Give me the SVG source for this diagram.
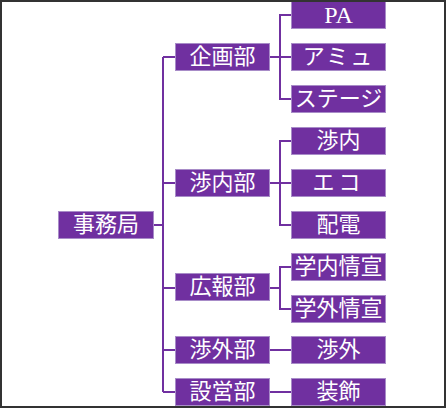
<svg xmlns="http://www.w3.org/2000/svg" width="446" height="408" viewBox="0 0 446 408">
<style>
.box{fill:#7030A0;stroke:#A88CC8;stroke-width:1}
.t{fill:#FFFFFF;font-family:"Noto Sans CJK JP","Noto Sans CJK SC",sans-serif;font-size:22px;text-anchor:middle}
.lat{font-family:"Liberation Serif","Noto Sans CJK JP",serif;font-size:24px}
.c{fill:none;stroke:#7030A0;stroke-width:2}
</style>
<rect x="0" y="0" width="446" height="408" fill="#FFFFFF"/>
<g id="connectors">
<path class="c" d="M153,225 H163 M163,57 V392 M163,57 H175 M163,183 H175 M163,288 H175 M163,350 H175 M163,392 H175"/>
<path class="c" d="M270,57 H280 M291,15 H280 V99 H291 M280,57 H291"/>
<path class="c" d="M270,183 H280 M291,141 H280 V225 H291 M280,183 H291"/>
<path class="c" d="M270,288 H280 M291,267 H280 V309 H291"/>
<path class="c" d="M270,350 H291 M270,392 H291"/>
</g>
<g id="n-root"><rect class="box" x="58.5" y="211.5" width="95" height="27"/><text class="t" x="106" y="232">事務局</text></g>
<g id="n-kikaku"><rect class="box" x="175.5" y="43.5" width="94" height="27"/><text class="t" x="222.5" y="64">企画部</text></g>
<g id="n-shonai-bu"><rect class="box" x="175.5" y="169.5" width="94" height="27"/><text class="t" x="222.5" y="190">渉内部</text></g>
<g id="n-koho"><rect class="box" x="175.5" y="273.5" width="94" height="27"/><text class="t" x="222.5" y="294">広報部</text></g>
<g id="n-shogai-bu"><rect class="box" x="175.5" y="336.5" width="94" height="27"/><text class="t" x="222.5" y="357">渉外部</text></g>
<g id="n-setsuei"><rect class="box" x="175.5" y="378.5" width="94" height="27"/><text class="t" x="222.5" y="399">設営部</text></g>
<g id="n-pa"><rect class="box" x="291.5" y="1.5" width="94" height="27"/><text class="t lat" x="338.5" y="23">PA</text></g>
<g id="n-amu"><rect class="box" x="291.5" y="43.5" width="94" height="27"/><text class="t" x="338.5" y="64" letter-spacing="2">アミュ</text></g>
<g id="n-stage"><rect class="box" x="291.5" y="85.5" width="94" height="27"/><text class="t" x="338.5" y="106">ステージ</text></g>
<g id="n-shonai"><rect class="box" x="291.5" y="127.5" width="94" height="27"/><text class="t" x="338.5" y="148">渉内</text></g>
<g id="n-eco"><rect class="box" x="291.5" y="169.5" width="94" height="27"/><text class="t" x="338.5" y="190" letter-spacing="4">エコ</text></g>
<g id="n-haiden"><rect class="box" x="291.5" y="211.5" width="94" height="27"/><text class="t" x="338.5" y="232">配電</text></g>
<g id="n-gakunai"><rect class="box" x="291.5" y="253.5" width="94" height="27"/><text class="t" x="338.5" y="274">学内情宣</text></g>
<g id="n-gakugai"><rect class="box" x="291.5" y="295.5" width="94" height="27"/><text class="t" x="338.5" y="316">学外情宣</text></g>
<g id="n-shogai"><rect class="box" x="291.5" y="336.5" width="94" height="27"/><text class="t" x="338.5" y="357">渉外</text></g>
<g id="n-soshoku"><rect class="box" x="291.5" y="378.5" width="94" height="27"/><text class="t" x="338.5" y="399">装飾</text></g>
<rect x="1" y="1" width="444" height="406" fill="none" stroke="#333333" stroke-width="2"/>
</svg>
